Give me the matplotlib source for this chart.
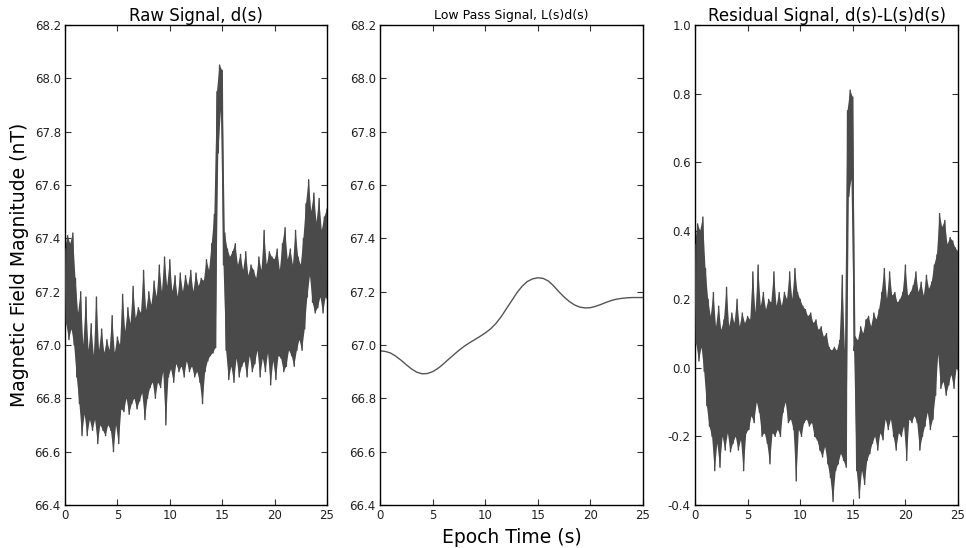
import numpy as np
import matplotlib
matplotlib.use("Agg")
import matplotlib.pyplot as plt
from matplotlib.ticker import FormatStrFormatter

# ---------------- data ----------------
t_step = 0.25  # envelope sampling step (s)

# Raw signal d(s): upper / lower envelope of the noisy trace every 0.25 s
raw_upper = [
    67.36, 67.41, 67.38, 67.42, 67.25, 67.12, 67.20, 67.00, 67.18, 66.98,
    67.08, 66.96, 67.18, 66.98, 67.06, 66.97, 67.02, 66.98, 67.11, 66.97,
    67.03, 67.00, 67.19, 67.05, 67.14, 67.08, 67.22, 67.10, 67.14, 67.12,
    67.28, 67.13, 67.20, 67.15, 67.24, 67.18, 67.30, 67.20, 67.33, 67.22,
    67.32, 67.20, 67.26, 67.18, 67.27, 67.20, 67.26, 67.22, 67.28, 67.20,
    67.27, 67.22, 67.25, 67.24, 67.32, 67.28, 67.38, 67.49, 67.95, 68.05,
    68.03, 67.42, 67.36, 67.33, 67.35, 67.38, 67.30, 67.34, 67.28, 67.35,
    67.26, 67.30, 67.28, 67.25, 67.33, 67.28, 67.43, 67.30, 67.35, 67.33,
    67.32, 67.36, 67.28, 67.38, 67.44, 67.32, 67.36, 67.30, 67.43, 67.33,
    67.30, 67.40, 67.53, 67.62, 67.50, 67.57, 67.46, 67.55, 67.43, 67.48,
    67.51,
]
raw_lower = [
    67.08, 67.02, 67.06, 67.00, 66.88, 66.78, 66.66, 66.74, 66.66, 66.72,
    66.68, 66.72, 66.63, 66.70, 66.68, 66.66, 66.70, 66.68, 66.60, 66.70,
    66.63, 66.76, 66.75, 66.80, 66.74, 66.78, 66.80, 66.76, 66.79, 66.82,
    66.72, 66.80, 66.84, 66.86, 66.80, 66.86, 66.84, 66.90, 66.70, 66.88,
    66.91, 66.86, 66.93, 66.90, 66.92, 66.88, 66.94, 66.90, 66.92, 66.88,
    66.90, 66.86, 66.78, 66.90, 66.94, 66.96, 66.97, 66.99, 67.72, 67.88,
    67.30, 66.98, 66.87, 66.92, 66.86, 66.95, 66.88, 66.92, 66.94, 66.88,
    66.96, 66.90, 66.93, 66.98, 66.88, 66.95, 66.90, 66.97, 66.85, 66.94,
    66.87, 66.96, 66.95, 66.90, 66.92, 66.98, 66.96, 66.92, 66.98, 67.02,
    66.98, 67.06, 67.18, 67.26, 67.16, 67.12, 67.14, 67.18, 67.12, 67.18,
    67.16,
]

# Low pass signal L(s)d(s), every 0.5 s
lp_step = 0.5
low_pass = [
    66.978, 66.976, 66.970, 66.958, 66.943, 66.926, 66.910, 66.898, 66.892, 66.893,
    66.900, 66.912, 66.928, 66.946, 66.963, 66.980, 66.995, 67.008, 67.020, 67.032,
    67.045, 67.060, 67.080, 67.105, 67.135, 67.165, 67.195, 67.220, 67.238, 67.248,
    67.252, 67.250, 67.240, 67.222, 67.200, 67.180, 67.163, 67.150, 67.142, 67.139,
    67.140, 67.145, 67.152, 67.160, 67.167, 67.172, 67.175, 67.177, 67.178, 67.178,
    67.178,
]

# Residual d(s)-L(s)d(s): upper / lower envelope every 0.25 s
res_upper = [
    0.36, 0.42, 0.40, 0.44, 0.29, 0.20, 0.15, 0.22, 0.12, 0.18,
    0.11, 0.14, 0.235, 0.12, 0.16, 0.13, 0.20, 0.12, 0.16, 0.13,
    0.15, 0.14, 0.28, 0.16, 0.30, 0.18, 0.22, 0.17, 0.20, 0.19,
    0.28, 0.18, 0.22, 0.18, 0.22, 0.20, 0.28, 0.20, 0.29, 0.22,
    0.20, 0.18, 0.17, 0.15, 0.16, 0.13, 0.14, 0.11, 0.12, 0.09,
    0.10, 0.06, 0.05, 0.06, 0.05, 0.08, 0.27, 0.05, 0.75, 0.81,
    0.79, 0.09, 0.08, 0.12, 0.10, 0.14, 0.15, 0.12, 0.16, 0.14,
    0.17, 0.22, 0.29, 0.20, 0.28, 0.21, 0.22, 0.19, 0.20, 0.22,
    0.30, 0.21, 0.22, 0.24, 0.28, 0.22, 0.25, 0.21, 0.27, 0.23,
    0.25, 0.30, 0.33, 0.45, 0.41, 0.43, 0.36, 0.38, 0.37, 0.35,
    0.34,
]
res_lower = [
    0.07, 0.02, 0.06, -0.01, -0.11, -0.17, -0.20, -0.30, -0.22, -0.29,
    -0.20, -0.24, -0.19, -0.245, -0.22, -0.20, -0.24, -0.21, -0.30, -0.19,
    -0.18, -0.14, -0.16, -0.10, -0.13, -0.20, -0.19, -0.22, -0.28, -0.19,
    -0.20, -0.18, -0.20, -0.13, -0.10, -0.16, -0.15, -0.18, -0.33, -0.18,
    -0.20, -0.16, -0.15, -0.17, -0.16, -0.20, -0.21, -0.24, -0.26, -0.23,
    -0.28, -0.32, -0.39, -0.30, -0.28, -0.25, -0.27, -0.29, 0.50, 0.55,
    0.05, -0.30, -0.38, -0.30, -0.34, -0.27, -0.25, -0.22, -0.20, -0.24,
    -0.19, -0.21, -0.15, -0.18, -0.15, -0.20, -0.24, -0.19, -0.20, -0.17,
    -0.27, -0.15, -0.16, -0.14, -0.16, -0.24, -0.20, -0.17, -0.13, -0.18,
    -0.15, -0.08, 0.04, -0.06, -0.04, -0.08, -0.05, -0.02, -0.06, 0.00,
    -0.02,
]

titles = ["Raw Signal, d(s)", "Low Pass Signal, L(s)d(s)", "Residual Signal, d(s)-L(s)d(s)"]
x_ticks = [0, 5, 10, 15, 20, 25]
field_ticks = [66.4, 66.6, 66.8, 67.0, 67.2, 67.4, 67.6, 67.8, 68.0, 68.2]
res_ticks = [-0.4, -0.2, 0.0, 0.2, 0.4, 0.6, 0.8, 1.0]

line_color = "#4a4a4a"


def draw_noisy(ax, upper, lower, step):
    """Dense noisy trace: solid band between the envelopes plus a zigzag line."""
    n = len(upper)
    t = np.arange(n) * step
    t_low = t + step / 2
    upper = np.asarray(upper)
    lower = np.asarray(lower)
    # solid band (polygon: upper envelope forward, lower envelope backward)
    px = np.concatenate([t, t_low[::-1]])
    py = np.concatenate([upper, lower[::-1]])
    ax.fill(px, py, color=line_color, lw=0, zorder=2)
    # zigzag trace between the envelopes
    x = np.empty(2 * n)
    y = np.empty(2 * n)
    x[0::2] = t
    x[1::2] = t_low
    y[0::2] = upper
    y[1::2] = lower
    ax.plot(x, y, color=line_color, lw=1.0, zorder=3)


# ---------------- figure ----------------
plt.rcParams.update({
    "font.family": "DejaVu Sans",
    "xtick.direction": "in",
    "ytick.direction": "in",
    "xtick.top": True,
    "ytick.right": True,
    "xtick.major.size": 4,
    "ytick.major.size": 4,
    "xtick.major.pad": 3,
    "ytick.major.pad": 3,
    "axes.linewidth": 1.0,
})

fig = plt.figure(figsize=(9.66, 5.48), dpi=100)
W, H = 966.0, 548.0
bottom = 1 - 505 / H
height = 480 / H
ax1 = fig.add_axes([65 / W, bottom, 262 / W, height])
ax2 = fig.add_axes([380 / W, bottom, 263 / W, height])
ax3 = fig.add_axes([695 / W, bottom, 263 / W, height])

draw_noisy(ax1, raw_upper, raw_lower, t_step)

t_lp = np.arange(len(low_pass)) * lp_step
ax2.plot(t_lp, low_pass, color="#555555", lw=1.0)

draw_noisy(ax3, res_upper, res_lower, t_step)

for ax in (ax1, ax2, ax3):
    ax.set_xlim(0, 25)
    ax.set_xticks(x_ticks)
    ax.tick_params(labelsize=8.5, colors="#222222")
    ax.tick_params(axis="both", which="major", color="#333333")

for ax in (ax1, ax2):
    ax.set_ylim(66.4, 68.2)
    ax.set_yticks(field_ticks)
    ax.yaxis.set_major_formatter(FormatStrFormatter("%.1f"))
ax3.set_ylim(-0.4, 1.0)
ax3.set_yticks(res_ticks)
ax3.yaxis.set_major_formatter(FormatStrFormatter("%.1f"))

ax1.set_title(titles[0], fontsize=12, pad=3)
ax2.set_title(titles[1], fontsize=9, pad=4)
ax3.set_title(titles[2], fontsize=12, pad=3)

ax1.set_ylabel("Magnetic Field Magnitude (nT)", fontsize=13.5, labelpad=4)
ax2.set_xlabel("Epoch Time (s)", fontsize=13.5, labelpad=4)

fig.savefig("out.png", dpi=100, facecolor="white")
